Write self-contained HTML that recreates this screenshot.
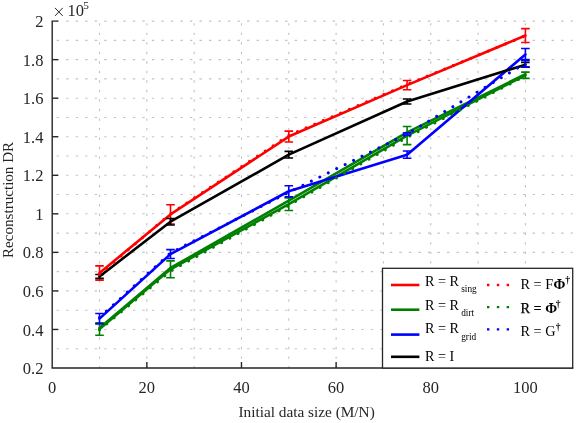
<!DOCTYPE html>
<html><head><meta charset="utf-8"><title>chart</title>
<style>
html,body{margin:0;padding:0;background:#fff;}
body{width:580px;height:423px;overflow:hidden;font-family:"Liberation Serif",serif;}
svg{display:block;will-change:transform}
</style></head><body>
<svg width="580" height="423" viewBox="0 0 580 423">
<g stroke="#c2c2c2" stroke-width="1.1" stroke-dasharray="2.4 7.12" fill="none">
<line x1="52.2" y1="348.73" x2="572.7" y2="348.73" stroke-dashoffset="-4.44"/>
<line x1="52.2" y1="329.46" x2="572.7" y2="329.46" stroke-dashoffset="-4.44"/>
<line x1="52.2" y1="310.18" x2="572.7" y2="310.18" stroke-dashoffset="-4.44"/>
<line x1="52.2" y1="290.91" x2="572.7" y2="290.91" stroke-dashoffset="-4.44"/>
<line x1="52.2" y1="271.64" x2="572.7" y2="271.64" stroke-dashoffset="-4.44"/>
<line x1="52.2" y1="252.37" x2="572.7" y2="252.37" stroke-dashoffset="-4.44"/>
<line x1="52.2" y1="233.09" x2="572.7" y2="233.09" stroke-dashoffset="-4.44"/>
<line x1="52.2" y1="213.82" x2="572.7" y2="213.82" stroke-dashoffset="-4.44"/>
<line x1="52.2" y1="194.55" x2="572.7" y2="194.55" stroke-dashoffset="-4.44"/>
<line x1="52.2" y1="175.28" x2="572.7" y2="175.28" stroke-dashoffset="-4.44"/>
<line x1="52.2" y1="156.01" x2="572.7" y2="156.01" stroke-dashoffset="-4.44"/>
<line x1="52.2" y1="136.73" x2="572.7" y2="136.73" stroke-dashoffset="-4.44"/>
<line x1="52.2" y1="117.46" x2="572.7" y2="117.46" stroke-dashoffset="-4.44"/>
<line x1="52.2" y1="98.19" x2="572.7" y2="98.19" stroke-dashoffset="-4.44"/>
<line x1="52.2" y1="78.92" x2="572.7" y2="78.92" stroke-dashoffset="-4.44"/>
<line x1="52.2" y1="59.64" x2="572.7" y2="59.64" stroke-dashoffset="-4.44"/>
<line x1="52.2" y1="40.37" x2="572.7" y2="40.37" stroke-dashoffset="-4.44"/>
<line x1="52.2" y1="21.10" x2="572.7" y2="21.10" stroke-dashoffset="-4.44"/>
<line x1="99.52" y1="368.0" x2="99.52" y2="21.1" stroke-dasharray="2.4 7.12" stroke-dashoffset="0.3"/>
<line x1="146.84" y1="368.0" x2="146.84" y2="21.1" stroke-dasharray="2.4 7.12" stroke-dashoffset="0.3"/>
<line x1="194.16" y1="368.0" x2="194.16" y2="21.1" stroke-dasharray="2.4 7.12" stroke-dashoffset="0.3"/>
<line x1="241.48" y1="368.0" x2="241.48" y2="21.1" stroke-dasharray="2.4 7.12" stroke-dashoffset="0.3"/>
<line x1="288.80" y1="368.0" x2="288.80" y2="21.1" stroke-dasharray="2.4 7.12" stroke-dashoffset="0.3"/>
<line x1="336.12" y1="368.0" x2="336.12" y2="21.1" stroke-dasharray="2.4 7.12" stroke-dashoffset="0.3"/>
<line x1="383.44" y1="368.0" x2="383.44" y2="21.1" stroke-dasharray="2.4 7.12" stroke-dashoffset="0.3"/>
<line x1="430.76" y1="368.0" x2="430.76" y2="21.1" stroke-dasharray="2.4 7.12" stroke-dashoffset="0.3"/>
<line x1="478.08" y1="368.0" x2="478.08" y2="21.1" stroke-dasharray="2.4 7.12" stroke-dashoffset="0.3"/>
<line x1="525.40" y1="368.0" x2="525.40" y2="21.1" stroke-dasharray="2.4 7.12" stroke-dashoffset="0.3"/>
</g>
<g stroke="#262626" stroke-width="1.4" fill="none">
<path d="M58.2 21.1H52.2V368.0H573.3000000000001"/>
<line x1="52.2" y1="329.46" x2="58.2" y2="329.46"/>
<line x1="52.2" y1="290.91" x2="58.2" y2="290.91"/>
<line x1="52.2" y1="252.37" x2="58.2" y2="252.37"/>
<line x1="52.2" y1="213.82" x2="58.2" y2="213.82"/>
<line x1="52.2" y1="175.28" x2="58.2" y2="175.28"/>
<line x1="52.2" y1="136.73" x2="58.2" y2="136.73"/>
<line x1="52.2" y1="98.19" x2="58.2" y2="98.19"/>
<line x1="52.2" y1="59.64" x2="58.2" y2="59.64"/>
<line x1="146.84" y1="368.0" x2="146.84" y2="362.0"/>
<line x1="241.48" y1="368.0" x2="241.48" y2="362.0"/>
<line x1="336.12" y1="368.0" x2="336.12" y2="362.0"/>
<line x1="430.76" y1="368.0" x2="430.76" y2="362.0"/>
<line x1="525.40" y1="368.0" x2="525.40" y2="362.0"/>
</g>
<g stroke="#ff0000" fill="none">
<polyline points="99.52,272.99 170.50,214.40 288.80,136.54 407.10,85.08 525.40,35.55" stroke-width="2.6" stroke-linejoin="round" stroke-linecap="round"/>
<path d="M99.52 265.86V280.12M95.22 265.86h8.6M95.22 280.12h8.6" stroke-width="1.6"/>
<path d="M170.50 204.76V224.04M166.20 204.76h8.6M166.20 224.04h8.6" stroke-width="1.6"/>
<path d="M288.80 131.14V141.94M284.50 131.14h8.6M284.50 141.94h8.6" stroke-width="1.6"/>
<path d="M407.10 80.46V89.71M402.80 80.46h8.6M402.80 89.71h8.6" stroke-width="1.6"/>
<path d="M525.40 28.62V42.49M521.10 28.62h8.6M521.10 42.49h8.6" stroke-width="1.6"/>
</g>
<g stroke="#008000" fill="none">
<polyline points="99.52,327.91 170.50,267.98 288.80,200.72 407.10,132.30 525.40,74.29" stroke-width="2.6" stroke-linejoin="round" stroke-linecap="round"/>
<polyline points="99.52,329.07 170.50,269.33 288.80,204.19 407.10,135.58 525.40,75.25" stroke-width="2.6" stroke-linejoin="round" stroke-linecap="round"/>
<path d="M99.52 322.90V335.24M95.22 322.90h8.6M95.22 335.24h8.6" stroke-width="1.6"/>
<path d="M170.50 260.85V277.81M166.20 260.85h8.6M166.20 277.81h8.6" stroke-width="1.6"/>
<path d="M288.80 197.83V210.55M284.50 197.83h8.6M284.50 210.55h8.6" stroke-width="1.6"/>
<path d="M407.10 126.52V144.63M402.80 126.52h8.6M402.80 144.63h8.6" stroke-width="1.6"/>
<path d="M525.40 72.17V78.34M521.10 72.17h8.6M521.10 78.34h8.6" stroke-width="1.6"/>
</g>
<g stroke="#0000ff" fill="none">
<polyline points="99.52,318.66 170.50,254.10 288.80,191.27 407.10,154.66 525.40,54.44" stroke-width="2.6" stroke-linejoin="round" stroke-linecap="round"/>
<path d="M99.52 313.46V323.87M95.22 313.46h8.6M95.22 323.87h8.6" stroke-width="1.6"/>
<path d="M170.50 249.67V258.53M166.20 249.67h8.6M166.20 258.53h8.6" stroke-width="1.6"/>
<path d="M288.80 185.68V196.86M284.50 185.68h8.6M284.50 196.86h8.6" stroke-width="1.6"/>
<path d="M407.10 150.99V158.32M402.80 150.99h8.6M402.80 158.32h8.6" stroke-width="1.6"/>
<path d="M525.40 48.47V60.42M521.10 48.47h8.6M521.10 60.42h8.6" stroke-width="1.6"/>
</g>
<g stroke="#000000" fill="none">
<polyline points="99.52,276.46 170.50,221.72 288.80,154.66 407.10,101.47 525.40,64.66" stroke-width="2.6" stroke-linejoin="round" stroke-linecap="round"/>
<path d="M99.52 274.53V278.38M95.22 274.53h8.6M95.22 278.38h8.6" stroke-width="1.6"/>
<path d="M170.50 218.45V225.00M166.20 218.45h8.6M166.20 225.00h8.6" stroke-width="1.6"/>
<path d="M288.80 151.38V157.93M284.50 151.38h8.6M284.50 157.93h8.6" stroke-width="1.6"/>
<path d="M407.10 98.96V103.97M402.80 98.96h8.6M402.80 103.97h8.6" stroke-width="1.6"/>
<path d="M525.40 62.34V66.97M521.10 62.34h8.6M521.10 66.97h8.6" stroke-width="1.6"/>
</g>
<g stroke="#ff0000" fill="none">
<polyline points="99.52,274.34 170.50,213.82 288.80,135.38 407.10,84.51 525.40,35.75" stroke-width="3" stroke-dasharray="0.01 9.4" stroke-linecap="round"/>
</g>
<g stroke="#008000" fill="none">
<polyline points="99.52,329.84 170.50,271.06 288.80,205.34 407.10,137.31 525.40,75.83" stroke-width="3" stroke-dasharray="0.01 9.4" stroke-linecap="round"/>
</g>
<g stroke="#0000ff" fill="none">
<polyline points="99.52,317.51 170.50,252.94 288.80,192.24 407.10,134.04 525.40,63.31" stroke-width="3" stroke-dasharray="0.01 9.4" stroke-linecap="round"/>
<path d="M407.10 132.88V135.19M402.80 132.88h8.6M402.80 135.19h8.6" stroke-width="1.6"/>
<path d="M525.40 59.45V67.16M521.10 59.45h8.6M521.10 67.16h8.6" stroke-width="1.6"/>
</g>
<rect x="382.5" y="268.3" width="190.20000000000005" height="99.69999999999999" fill="#fff" stroke="#262626" stroke-width="1.3"/>
<line x1="391" y1="285" x2="419.4" y2="285" stroke="#ff0000" stroke-width="2.6"/>
<line x1="391" y1="309.7" x2="419.4" y2="309.7" stroke="#008000" stroke-width="2.6"/>
<line x1="391" y1="334.6" x2="419.4" y2="334.6" stroke="#0000ff" stroke-width="2.6"/>
<line x1="391" y1="356.8" x2="419.4" y2="356.8" stroke="#000000" stroke-width="2.6"/>
<line x1="487" y1="285" x2="510" y2="285" stroke="#ff0000" stroke-width="2.4" stroke-dasharray="2.4 7.43"/>
<line x1="487" y1="307.1" x2="510" y2="307.1" stroke="#008000" stroke-width="2.4" stroke-dasharray="2.4 7.43"/>
<line x1="487" y1="329.4" x2="510" y2="329.4" stroke="#0000ff" stroke-width="2.4" stroke-dasharray="2.4 7.43"/>
<g font-family="Liberation Serif, serif" fill="#262626" font-size="16.5">
<text x="43.4" y="374.0" text-anchor="end">0.2</text>
<text x="43.4" y="335.5" text-anchor="end">0.4</text>
<text x="43.4" y="296.9" text-anchor="end">0.6</text>
<text x="43.4" y="258.4" text-anchor="end">0.8</text>
<text x="43.4" y="219.8" text-anchor="end">1</text>
<text x="43.4" y="181.3" text-anchor="end">1.2</text>
<text x="43.4" y="142.7" text-anchor="end">1.4</text>
<text x="43.4" y="104.2" text-anchor="end">1.6</text>
<text x="43.4" y="65.6" text-anchor="end">1.8</text>
<text x="43.4" y="27.1" text-anchor="end">2</text>
<text x="52.2" y="393.2" text-anchor="middle">0</text>
<text x="146.8" y="393.2" text-anchor="middle">20</text>
<text x="241.5" y="393.2" text-anchor="middle">40</text>
<text x="336.1" y="393.2" text-anchor="middle">60</text>
<text x="430.8" y="393.2" text-anchor="middle">80</text>
<text x="525.4" y="393.2" text-anchor="middle">100</text>
<path d="M55 7.9L62.7 15.9M62.7 7.9L55 15.9" stroke="#262626" stroke-width="1" fill="none"/><text x="67.6" y="16.3">10</text><text x="83.3" y="9.1" font-size="11.3">5</text>
<text x="306.6" y="416.7" text-anchor="middle" font-size="15.3">Initial data size (M/N)</text>
<text transform="translate(13.1 199.9) rotate(-90)" text-anchor="middle" font-size="15.1">Reconstruction DR</text>
</g>
<g font-family="Liberation Serif, serif" fill="#000" font-size="14.2">
<text x="425" y="285.5">R = R</text><text x="461.2" y="292.2" font-size="9.3">sing</text>
<text x="425" y="309.5">R = R</text><text x="461.2" y="316.2" font-size="9.3">dirt</text>
<text x="425" y="332.9">R = R</text><text x="461.2" y="339.59999999999997" font-size="9.3">grid</text>
<text x="425" y="360.9">R = I</text>
<text x="520.4" y="288.9" font-size="14.3">R = F<tspan font-weight="bold" dx="0.5">Φ</tspan></text><text x="565.3" y="283.2" font-size="9.6" font-weight="bold">†</text>
<text x="520.4" y="313.4" font-size="14.3" stroke="#000" stroke-width="0.25">R</text><text x="533.6" y="313.4" font-size="14.3" font-weight="bold">=</text><text x="545.2" y="313.4" font-size="14.3" font-weight="bold">Φ</text><text x="555.8" y="306.7" font-size="9.6" font-weight="bold">†</text>
<text x="520.4" y="336.4" font-size="14.3">R = G</text><text x="555.8" y="329.9" font-size="9.6" font-weight="bold">†</text>
</g>
</svg>
</body></html>
